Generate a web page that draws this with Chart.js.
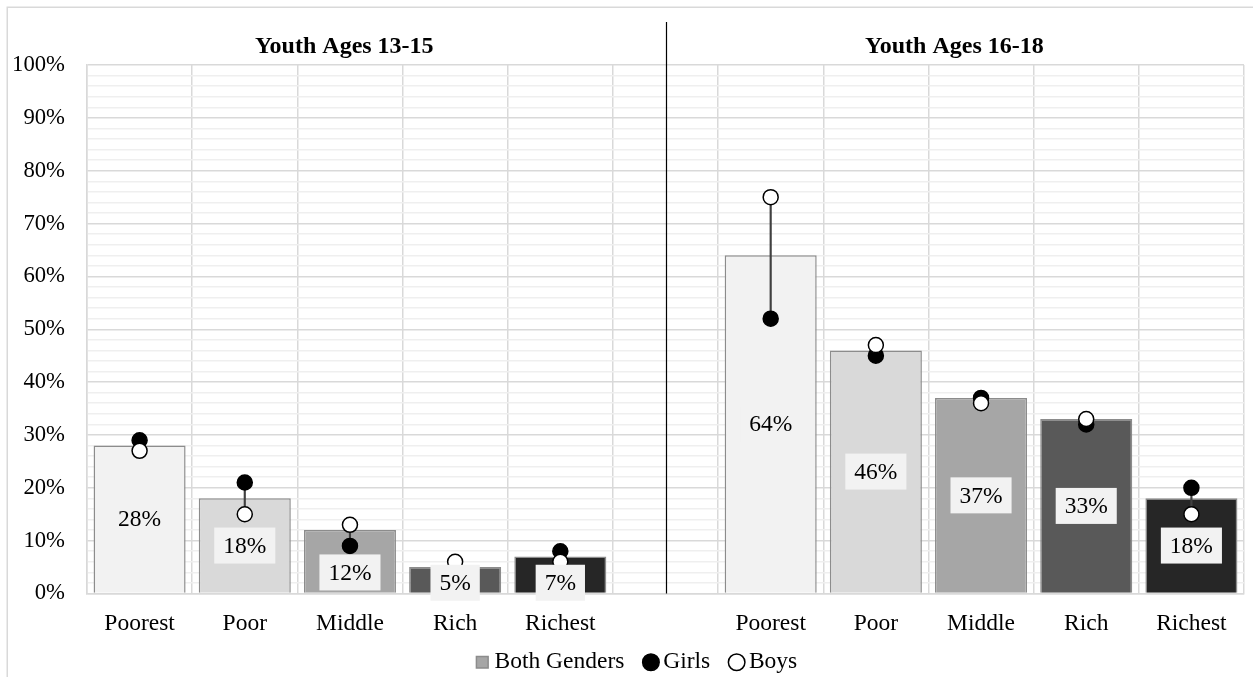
<!DOCTYPE html>
<html>
<head>
<meta charset="utf-8">
<title>Youth by wealth quintile</title>
<script src="https://cdn.jsdelivr.net/npm/chart.js@4.4.1/dist/chart.umd.min.js"></script>
<style>
  html, body { margin: 0; padding: 0; background: #ffffff; overflow: hidden; }
  #wrap { position: relative; width: 1253px; height: 700px; }
  canvas { display: block; }
</style>
</head>
<body>
<div id="wrap"><canvas id="chart" width="1253" height="700"></canvas></div>
<script>
// Wealth quintiles for the two age groups, with an empty slot between them
const categories = ['Poorest', 'Poor', 'Middle', 'Rich', 'Richest', '',
                    'Poorest', 'Poor', 'Middle', 'Rich', 'Richest'];
const bothGenders = [28, 18, 12, 5, 7, null, 64, 46, 37, 33, 18];
const girls       = [29, 21, 9, 4, 8, null, 52, 45, 37, 32, 20];
const boys        = [27, 15, 13, 6, 6, null, 75, 47, 36, 33, 15];
const groupTitles = ['Youth Ages 13-15', 'Youth Ages 16-18'];
const seriesNames = ['Both Genders', 'Girls', 'Boys'];
const yLabelValues = [0, 10, 20, 30, 40, 50, 60, 70, 80, 90, 100];

const quintileShades = ['#f2f2f2', '#d9d9d9', '#a6a6a6', '#595959', '#262626'];
const barColors = categories.map((c, i) => c === '' ? 'rgba(0,0,0,0)' : quintileShades[i < 5 ? i : i - 6]);

// gap between girls and boys, drawn as a thin floating bar
const genderRange = girls.map((g, i) =>
  g === null || boys[i] === null ? null : [Math.min(g, boys[i]), Math.max(g, boys[i])]);

const SERIF = "'Times New Roman', 'Liberation Serif', serif";
Chart.defaults.font.family = SERIF;
Chart.defaults.color = '#000000';

const MARKER_R = 8;

const decorPlugin = {
  id: 'decor',
  afterLayout(chart) {
    // legend row sits a little right of centre and closer to the axis labels
    const lg = chart.legend;
    if (lg) {
      lg.left += 27;
      lg.top -= 11;
      lg.bottom -= 11;
    }
  },
  beforeDraw(chart) {
    const ctx = chart.ctx;
    ctx.save();
    ctx.strokeStyle = '#d9d9d9';
    ctx.lineWidth = 1.5;
    ctx.strokeRect(7.25, 7.25, 1400, 900);
    ctx.restore();
  },
  afterDatasetsDraw(chart) {
    // value labels on the bars; a label that would hide the lower marker slides down
    const ctx = chart.ctx;
    const meta = chart.getDatasetMeta(0);
    const y = chart.scales.y;
    ctx.save();
    ctx.font = '23.5px ' + SERIF;
    ctx.textAlign = 'center';
    ctx.textBaseline = 'middle';
    meta.data.forEach((bar, i) => {
      const v = bothGenders[i];
      if (v === null || v === undefined) return;
      const text = v + '%';
      const w = ctx.measureText(text).width + 18;
      const h = 36;
      let top = (bar.y + bar.base) / 2 - h / 2;
      const lowMarker = y.getPixelForValue(Math.min(girls[i], boys[i])) + MARKER_R + 0.5;
      if (top < lowMarker) top = Math.min(lowMarker, bar.base + 8 - h);
      ctx.fillStyle = '#f2f2f2';
      ctx.fillRect(bar.x - w / 2, top, w, h);
      ctx.fillStyle = '#000000';
      ctx.fillText(text, bar.x, top + h / 2 + 1);
    });
    ctx.restore();
  },
  afterDraw(chart) {
    const ctx = chart.ctx;
    const x = chart.scales.x;
    const area = chart.chartArea;
    ctx.save();
    // divider between the two age groups
    const dx = Math.round(x.getPixelForValue(5)) + 0.5;
    ctx.strokeStyle = '#000000';
    ctx.lineWidth = 1.2;
    ctx.beginPath();
    ctx.moveTo(dx, area.top - 43);
    ctx.lineTo(dx, area.bottom);
    ctx.stroke();
    // group headings
    ctx.font = 'bold 24px ' + SERIF;
    ctx.fillStyle = '#000000';
    ctx.textAlign = 'center';
    ctx.textBaseline = 'middle';
    ctx.fillText(groupTitles[0], x.getPixelForValue(1.946), area.top - 18);
    ctx.fillText(groupTitles[1], x.getPixelForValue(7.747), area.top - 18);
    ctx.restore();
  }
};

new Chart(document.getElementById('chart'), {
  data: {
    labels: categories,
    datasets: [
      {
        type: 'bar',
        label: seriesNames[0],
        data: bothGenders,
        backgroundColor: barColors,
        borderColor: '#8c8c8c',
        borderWidth: 1.5,
        grouped: false,
        categoryPercentage: 1,
        barPercentage: 0.875,
        order: 3
      },
      {
        type: 'bar',
        label: 'range',
        data: genderRange,
        backgroundColor: '#404040',
        borderWidth: 0,
        grouped: false,
        barThickness: 1.5,
        order: 2
      },
      {
        type: 'line',
        label: seriesNames[1],
        data: girls,
        showLine: false,
        pointStyle: 'circle',
        pointRadius: MARKER_R - 0.5,
        pointHoverRadius: MARKER_R - 0.5,
        pointBackgroundColor: '#000000',
        pointBorderColor: '#000000',
        pointBorderWidth: 1.5,
        order: 1
      },
      {
        type: 'line',
        label: seriesNames[2],
        data: boys,
        showLine: false,
        pointStyle: 'circle',
        pointRadius: MARKER_R - 0.5,
        pointHoverRadius: MARKER_R - 0.5,
        pointBackgroundColor: '#ffffff',
        pointBorderColor: '#000000',
        pointBorderWidth: 1.5,
        order: 0
      }
    ]
  },
  options: {
    responsive: false,
    animation: false,
    devicePixelRatio: 1,
    layout: { padding: { left: 7, right: 8, top: 65, bottom: 5 } },
    scales: {
      x: {
        type: 'category',
        offset: true,
        grid: { offset: true, color: '#d9d9d9', lineWidth: 1.5, drawTicks: false },
        border: { color: '#d9d9d9', width: 1.5 },
        ticks: { font: { size: 23.5 }, color: '#000000', padding: 16, autoSkip: false, maxRotation: 0 },
        afterFit(scale) { scale.height = 42; }
      },
      y: {
        min: 0,
        max: 100,
        ticks: {
          stepSize: 2,
          autoSkip: false,
          font: { size: 22.7 },
          color: '#000000',
          padding: 22,
          callback: (v) => yLabelValues.includes(v) ? v + '%' : ''
        },
        grid: {
          color: (c) => c.tick && yLabelValues.includes(c.tick.value) ? '#d9d9d9' : '#efefef',
          lineWidth: 1.5,
          drawTicks: false
        },
        border: { color: '#d9d9d9', width: 1.5 },
        afterFit(scale) { scale.width = 80; }
      }
    },
    plugins: {
      tooltip: { enabled: false },
      legend: {
        position: 'bottom',
        labels: {
          usePointStyle: true,
          boxWidth: 1,
          boxHeight: 11.7,
          padding: 26,
          color: '#000000',
          font: { size: 23.5 },
          generateLabels() {
            return [
              { text: seriesNames[0], fillStyle: '#a6a6a6', strokeStyle: '#8c8c8c', lineWidth: 1.5, pointStyle: 'rect', datasetIndex: 0, hidden: false, fontColor: '#000000' },
              { text: seriesNames[1], fillStyle: '#000000', strokeStyle: '#000000', lineWidth: 1.5, pointStyle: 'circle', datasetIndex: 2, hidden: false, fontColor: '#000000' },
              { text: seriesNames[2], fillStyle: '#ffffff', strokeStyle: '#000000', lineWidth: 1.5, pointStyle: 'circle', datasetIndex: 3, hidden: false, fontColor: '#000000' }
            ];
          }
        }
      }
    }
  },
  plugins: [decorPlugin]
});
</script>
</body>
</html>
